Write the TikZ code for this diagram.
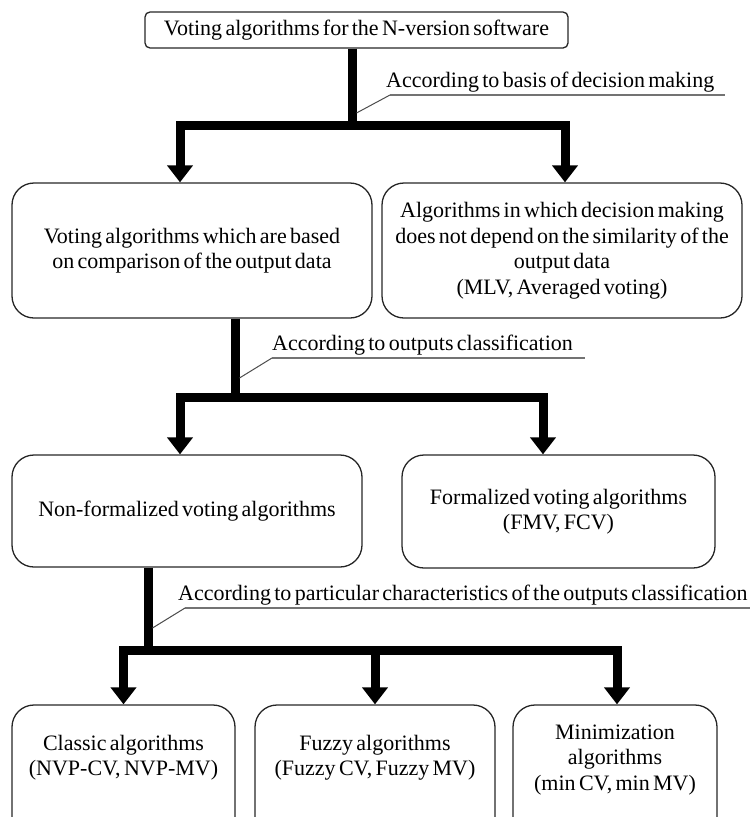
\documentclass[tikz,border=0pt]{standalone}
\usepackage{fontspec}
\setmainfont[WordSpace=0.6]{Liberation Serif}
\usetikzlibrary{arrows.meta,calc}
\begin{document}
\begin{tikzpicture}[x=1pt,y=-1pt,
  box/.style={draw=black!85,line width=1.3pt,rounded corners=22pt,inner sep=0pt,font=\fontsize{22}{25.5}\selectfont,align=center},
  topbox/.style={draw=black!85,line width=1.3pt,rounded corners=5pt,inner sep=0pt,font=\fontsize{22}{25.5}\selectfont,align=center},
  txt/.style={font=\fontsize{22}{25.5}\selectfont,align=center,inner sep=0pt},
  bar/.style={line width=9pt,line join=miter},
  arr/.style={bar,-{Triangle[width=25pt,length=17pt]}},
  lab/.style={font=\fontsize{22}{25.5}\selectfont,inner sep=0pt,anchor=south west},
  uline/.style={draw=black!55,line width=1.8pt},
  lead/.style={draw=black!70,line width=1pt}]
\useasboundingbox (0,0) rectangle (750,817);
\clip (0,0) rectangle (750,817);
% boxes
\node[topbox,minimum width=423pt,minimum height=36pt] (top) at (356.5,30) {Voting algorithms for the N-version software};
\node[box,minimum width=360pt,minimum height=135pt] (A) at (192,250.5) {Voting algorithms which are based\\on comparison of the output data};
\node[box,minimum width=360pt,minimum height=135pt] (B) at (562,250.5) {Algorithms in which decision making\\does not depend on the similarity of the\\output data\\(MLV, Averaged voting)};
\node[box,minimum width=350pt,minimum height=112pt] (C) at (187,511) {Non-formalized voting algorithms};
\node[box,minimum width=313pt,minimum height=113pt] (D) at (558.5,511.5) {Formalized voting algorithms\\(FMV, FCV)};
\node[box,minimum width=223pt,minimum height=140pt] (E) at (123.5,775) {};
\node[box,minimum width=240pt,minimum height=140pt] (F) at (375,775) {};
\node[box,minimum width=204pt,minimum height=140pt] (G) at (615,775) {};
\node[txt] (Et) at (123.5,757.5) {Classic algorithms\\(NVP-CV, NVP-MV)};
\node[txt] (Ft) at (375,757.5) {Fuzzy algorithms\\(Fuzzy CV, Fuzzy MV)};
\node[txt] (Gt) at (615,760) {Minimization\\algorithms\\(min CV, min MV)};
% level 1
\coordinate (j1) at (352,125);
\draw[bar] (j1 |- top.south) -- (j1);
\draw[arr] (j1) -| ([xshift=-12pt]A.north);
\draw[arr] (j1) -| ([xshift=3pt]B.north);
% level 2
\coordinate (j2) at (235,397);
\draw[bar] (j2 |- A.south) -- (j2);
\draw[arr] (j2) -| ([xshift=-7pt]C.north);
\draw[arr] (j2) -| ([xshift=-15.5pt]D.north);
% level 3
\coordinate (j3) at (148,650);
\draw[bar] (j3 |- C.south) -- (j3);
\draw[arr] (j3) -| (E.north);
\draw[arr] (j3) -| (F.north);
\draw[arr] (j3) -| ([xshift=2pt]G.north);
% labels
\coordinate (u1) at (390,95); \coordinate (u1e) at (725,95); \coordinate (t1) at (356.5,113);
\node[lab] (L1) at ([xshift=-4pt,yshift=3pt]u1) {According to basis of decision making};
\draw[uline] (u1) -- (u1e); \draw[lead] (t1) -- (u1);
\coordinate (u2) at (272,358); \coordinate (u2e) at (585,358); \coordinate (t2) at (239.5,378);
\node[lab] (L2) at ([yshift=3pt]u2) {According to outputs classification};
\draw[uline] (u2) -- (u2e); \draw[lead] (t2) -- (u2);
\coordinate (u3) at (185,608); \coordinate (u3e) at (750,608); \coordinate (t3) at (152.5,628);
\node[lab] (L3) at ([xshift=-7pt,yshift=3pt]u3) {According to particular characteristics of the outputs classification};
\draw[uline] (u3) -- (u3e); \draw[lead] (t3) -- (u3);
\end{tikzpicture}
\end{document}
